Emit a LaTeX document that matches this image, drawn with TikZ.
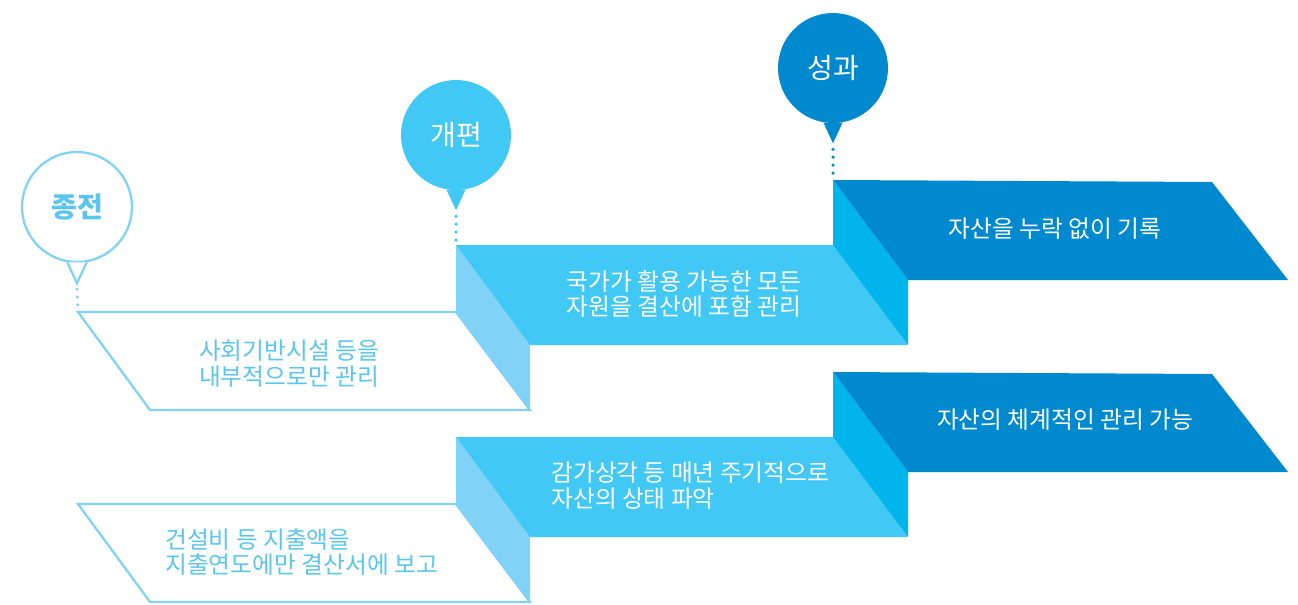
\documentclass[tikz,border=0pt]{standalone}
\usepackage{fontspec}
\setmainfont{Noto Sans CJK KR}
\usetikzlibrary{positioning}
\definecolor{pale}{HTML}{80D3F6}
\definecolor{paletext}{HTML}{5AC6F0}
\definecolor{sky}{HTML}{42C8F4}
\definecolor{bright}{HTML}{00B4EC}
\definecolor{deep}{HTML}{0089CF}

\begin{document}
\begin{tikzpicture}[x=0.02cm, y=-0.02cm,
        bubble/.style={circle, minimum size=2.2cm, inner sep=0pt, font=\fontsize{16}{18}\selectfont},
        dotline/.style={line width=2pt, line cap=round, dash pattern=on 0pt off 4.5pt},
        txt/.style={font=\fontsize{13.5}{14.7}\selectfont, inner sep=0pt}]
        \useasboundingbox (0,0) rectangle (1298,605);

        % bubbles
        \node at (77,207) [bubble, draw=pale, line width=1.3pt, fill=white, text=paletext, font=\fontsize{16}{18}\selectfont\bfseries] (b100) {종전};
        \node at (456,135) [bubble, fill=sky, text=white] (b200) {개편};
        \node at (833,68) [bubble, fill=deep, text=white] (b300) {성과};
        \coordinate (t100) at ([yshift=-0.4cm]b100.south);
        \coordinate (t200) at ([yshift=-0.4cm]b200.south);
        \coordinate (t300) at ([yshift=-0.4cm]b300.south);
        \draw [draw=pale, fill=white, line width=1.3pt](b100.-100) -- (t100) -- (b100.-80);
        \fill [sky](b200.-100) -- (t200) -- (b200.-80) -- cycle;
        \fill [deep](b300.-100) -- (t300) -- (b300.-80) -- cycle;

        % upper row
        \coordinate (p100) at (78,312);
        \coordinate (p200) at (456,245);
        \coordinate (p300) at (833,180);
        \draw [draw=pale, fill=white, line width=1.3pt](p100) -- (456,312) -- (530,410) -- (150,410) -- cycle;
        \fill [pale](p200) -- (530,345) -- (530,410) -- (456,312) -- cycle;
        \fill [sky](p200) -- (833,245) -- (908,345) -- (530,345) -- cycle;
        \fill [bright](p300) -- (908,280) -- (908,345) -- (833,245) -- cycle;
        \fill [deep](p300) -- (1212,182) -- (1288,280) -- (908,280) -- cycle;

        % lower row
        \draw [draw=pale, fill=white, line width=1.3pt](78,504) -- (456,504) -- (530,602) -- (150,602) -- cycle;
        \fill [pale](456,437) -- (530,537) -- (530,602) -- (456,504) -- cycle;
        \fill [sky](456,437) -- (833,437) -- (908,537) -- (530,537) -- cycle;
        \fill [bright](833,372) -- (908,472) -- (908,537) -- (833,437) -- cycle;
        \fill [deep](833,372) -- (1212,374) -- (1288,472) -- (908,472) -- cycle;

        % dotted leaders
        \draw [dotline, pale]([yshift=-0.12cm]t100) -- (p100);
        \draw [dotline, sky]([yshift=-0.12cm]t200) -- (p200);
        \draw [dotline, deep]([yshift=-0.12cm]t300) -- (p300);

        \node at (289,364) [txt, text=paletext, align=center] (c100) {사회기반시설 등을\\내부적으로만 관리};
        \node at (684,294) [txt, text=white, align=center] (c200) {국가가 활용 가능한 모든\\자원을 결산에 포함 관리};
        \node at (1055,229) [txt, text=white] (c300) {자산을 누락 없이 기록};
        \node at (165,552) [txt, text=paletext, align=left, anchor=west] (d100) {건설비 등 지출액을\\지출연도에만 결산서에 보고};
        \node at (551,486) [txt, text=white, align=left, anchor=west] (d200) {감가상각 등 매년 주기적으로\\자산의 상태 파악};
        \node at (1065,420) [txt, text=white] (d300) {자산의 체계적인 관리 가능};
    \end{tikzpicture}
\end{document}
